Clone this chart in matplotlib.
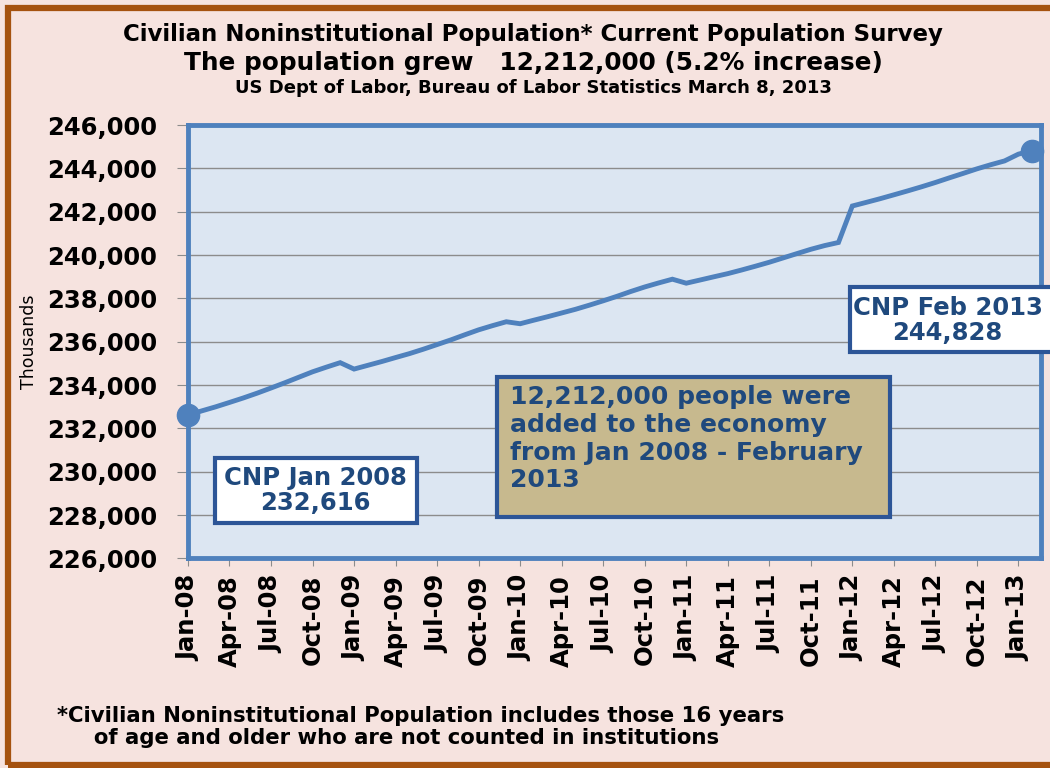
import matplotlib.pyplot as plt
from matplotlib.patches import Rectangle
from matplotlib.ticker import FuncFormatter

# Civilian noninstitutional population, thousands, Jan 2008 - Feb 2013
months = ['Jan', 'Feb', 'Mar', 'Apr', 'May', 'Jun',
          'Jul', 'Aug', 'Sep', 'Oct', 'Nov', 'Dec']
years = ['08', '09', '10', '11', '12', '13']
cnp_2008 = [232616, 232809, 232995, 233198, 233405, 233627,
            233864, 234107, 234360, 234612, 234828, 235035]
cnp_2009 = [234739, 234913, 235086, 235271, 235452, 235655,
            235870, 236087, 236322, 236550, 236743, 236924]
cnp_2010 = [236832, 236998, 237159, 237329, 237499, 237690,
            237890, 238099, 238322, 238530, 238715, 238889]
cnp_2011 = [238704, 238851, 239000, 239146, 239313, 239489,
            239671, 239871, 240071, 240269, 240441, 240584]
cnp_2012 = [242269, 242435, 242604, 242784, 242966, 243155,
            243354, 243566, 243772, 243983, 244174, 244350]
cnp_2013 = [244663, 244828]

cnp = cnp_2008 + cnp_2009 + cnp_2010 + cnp_2011 + cnp_2012 + cnp_2013
labels = [m + '-' + y for y in years for m in months][:len(cnp)]
x = list(range(len(cnp)))

bg = '#F6E3DF'
line_blue = '#4F81BD'
text_blue = '#1F497D'
box_edge = '#2C5597'

fig = plt.figure(figsize=(10.5, 7.68), dpi=100, facecolor=bg)

# brown frame around the whole figure
fig.patches.append(Rectangle((8 / 1050, 3 / 768), 1.2, 1 - 11 / 768,
                             transform=fig.transFigure, fill=False,
                             edgecolor='#A5520F', linewidth=4.5))

ax = fig.add_axes([0.179, 0.273, 0.812, 0.564])
ax.set_facecolor('#DCE6F2')
for s in ax.spines.values():
    s.set_color(line_blue)
    s.set_linewidth(3.5)

ax.plot(x, cnp, color=line_blue, linewidth=3.5, solid_joinstyle='miter', zorder=3)
ax.plot([x[0], x[-1]], [cnp[0], cnp[-1]], 'o', color=line_blue,
        markersize=16, zorder=4, clip_on=False)

ax.set_ylim(226000, 246000)
ax.set_yticks(range(226000, 246001, 2000))
ax.yaxis.set_major_formatter(FuncFormatter(lambda v, p: f'{int(v):,}'))
ax.grid(axis='y', color='#8C8C8C', linewidth=1.0)
ax.set_axisbelow(True)
ax.set_xlim(0, 61.6)
ax.set_xticks(x[::3])
ax.set_xticklabels(labels[::3], rotation=90)
for lab in ax.get_xticklabels() + ax.get_yticklabels():
    lab.set_fontweight('bold')
    lab.set_fontsize(17.5)
ax.tick_params(axis='y', length=8, color='#8C8C8C', pad=14)
ax.tick_params(axis='x', length=6, color='#8C8C8C', pad=6)
ax.set_ylabel('Thousands', fontsize=12.5, labelpad=6)
ax.yaxis.set_label_coords(-0.176, 0.5)

# titles
fig.text(0.508, 0.955, 'Civilian Noninstitutional Population* Current Population Survey',
         ha='center', va='center', fontsize=16.5, fontweight='bold')
fig.text(0.508, 0.918, 'The population grew   12,212,000 (5.2% increase)',
         ha='center', va='center', fontsize=17.8, fontweight='bold')
fig.text(0.508, 0.885, 'US Dept of Labor, Bureau of Labor Statistics March 8, 2013',
         ha='center', va='center', fontsize=13, fontweight='bold')

# annotation boxes
ax.add_patch(Rectangle((0.032, 0.081), 0.237, 0.15, transform=ax.transAxes,
                       facecolor='white', edgecolor=box_edge, linewidth=3,
                       zorder=5))
ax.text(0.150, 0.157, f'CNP Jan 2008\n{cnp[0]:,}', transform=ax.transAxes,
        ha='center', va='center', fontsize=17.5, fontweight='bold',
        color=text_blue, linespacing=1.05, zorder=6)

ax.add_patch(Rectangle((0.776, 0.476), 0.3, 0.15, transform=ax.transAxes,
                       facecolor='white', edgecolor=box_edge, linewidth=3,
                       zorder=5, clip_on=False))
ax.text(0.891, 0.55, f'CNP Feb 2013\n{cnp[-1]:,}', transform=ax.transAxes,
        ha='center', va='center', fontsize=17.5, fontweight='bold',
        color=text_blue, linespacing=1.05, zorder=6, clip_on=False)

ax.add_patch(Rectangle((0.362, 0.095), 0.461, 0.323, transform=ax.transAxes,
                       facecolor='#C7B98E', edgecolor=box_edge, linewidth=3,
                       zorder=5))
ax.text(0.3775, 0.40, '12,212,000 people were\nadded to the economy\nfrom Jan 2008 - February\n2013',
        transform=ax.transAxes, ha='left', va='top', fontsize=18,
        fontweight='bold', color=text_blue, linespacing=1.2, zorder=6)

# footnote
fig.text(0.054, 0.053, '*Civilian Noninstitutional Population includes those 16 years\n'
         '     of age and older who are not counted in institutions',
         ha='left', va='center', fontsize=15.3, fontweight='bold', linespacing=1.15)

fig.savefig('out.png', dpi=100, facecolor=bg)
